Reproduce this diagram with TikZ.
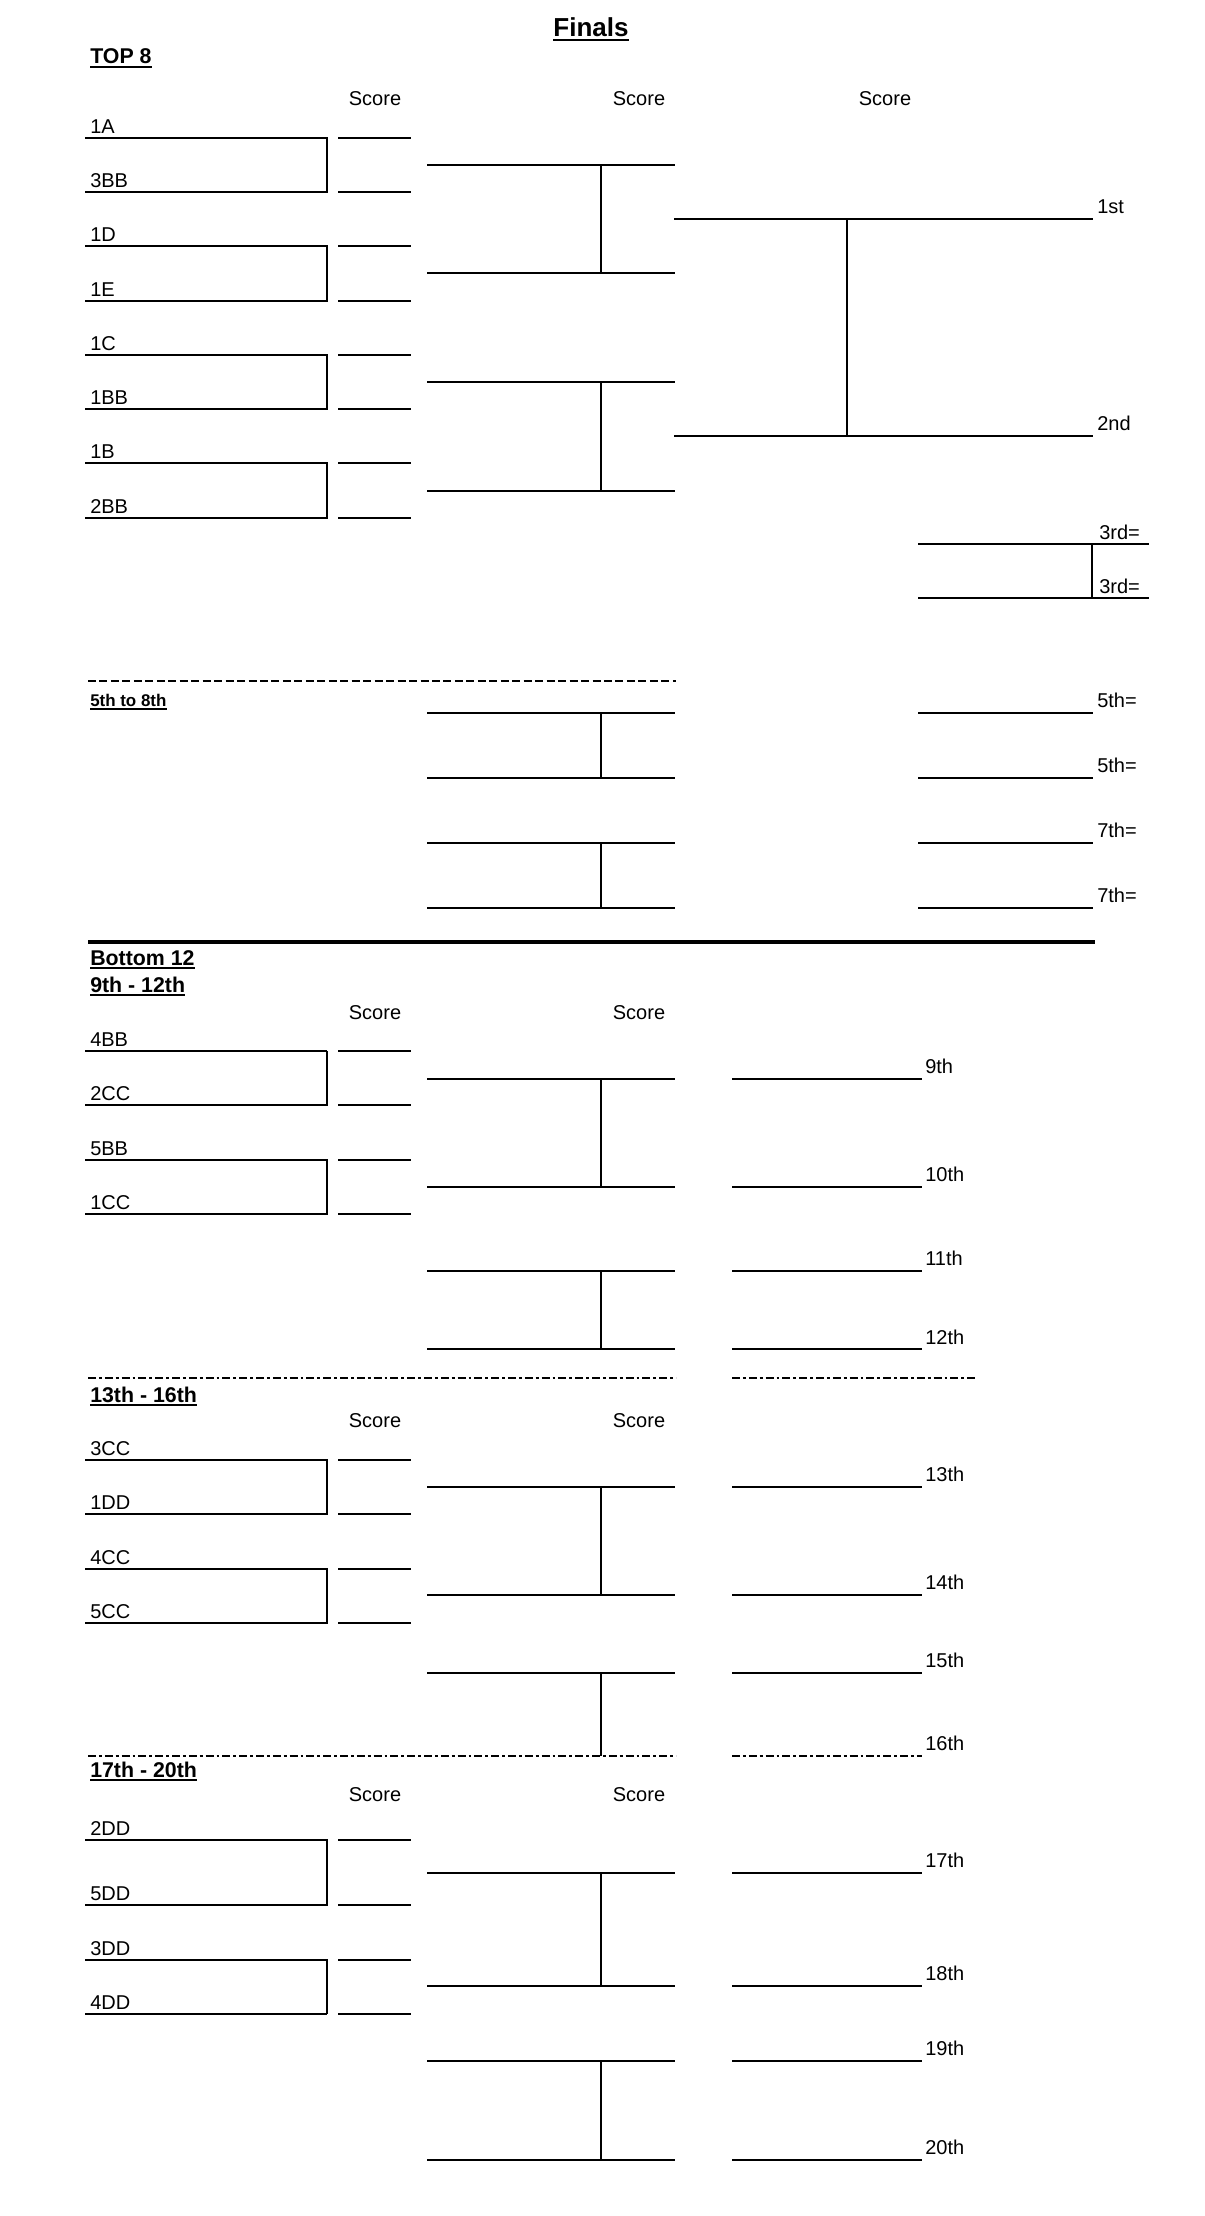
\documentclass[tikz,border=0pt]{standalone}
\usepackage{fontspec}
\setmainfont{Liberation Sans}
\usetikzlibrary{positioning}

\begin{document}
\begin{tikzpicture}[x=0.75pt,y=-0.75pt,
    line/.style={line width=1.4pt},
    bold/.style={line width=2pt},
    heavy/.style={line width=2.6pt},
    dashline/.style={line width=2pt,dash pattern=on 6pt off 2.6pt},
    dotline/.style={line width=1.9pt,dash pattern=on 6pt off 2.2pt on 2.2pt off 2.2pt},
    txt/.style={anchor=base west,inner sep=0pt,font=\fontsize{15}{18}\selectfont},
    score/.style={anchor=base,inner sep=0pt,font=\fontsize{15}{18}\selectfont},
    head/.style={anchor=base west,inner sep=0pt,font=\fontsize{16}{19}\selectfont\bfseries},
    ul/.style={line width=1.5pt}]

    \useasboundingbox (0,0) rectangle (1204,2216);

    \node[anchor=base,inner sep=0pt,font=\fontsize{19.5}{23}\selectfont\bfseries] (fin) at (591,37) {Finals};
    \node[head] (top) at (90,64) {TOP 8};
    \node[score] (s1) at (375,105) {Score};
    \node[score] (s2) at (639,105) {Score};
    \node[score] (s3) at (885,105) {Score};

    \node[txt] (a) at (90,133.5) {1A};
    \node[txt] (b) at (90,187.5) {3BB};
    \node[txt] (c) at (90,241.5) {1D};
    \node[txt] (d) at (90,296.5) {1E};
    \node[txt] (e) at (90,350.5) {1C};
    \node[txt] (f) at (90,404.5) {1BB};
    \node[txt] (g) at (90,458.5) {1B};
    \node[txt] (h) at (90,513.5) {2BB};

    \draw[line] (85,138) -- (327,138) -- (327,192) -- (85,192);
    \draw[line] (85,246) -- (327,246) -- (327,301) -- (85,301);
    \draw[line] (85,355) -- (327,355) -- (327,409) -- (85,409);
    \draw[line] (85,463) -- (327,463) -- (327,518) -- (85,518);
    \draw[line] (338,138) -- (411,138);
    \draw[line] (338,192) -- (411,192);
    \draw[line] (338,246) -- (411,246);
    \draw[line] (338,301) -- (411,301);
    \draw[line] (338,355) -- (411,355);
    \draw[line] (338,409) -- (411,409);
    \draw[line] (338,463) -- (411,463);
    \draw[line] (338,518) -- (411,518);

    \draw[line] (427,165) -- (675,165);
    \draw[bold] (427,273) -- (675,273);
    \draw[line] (601,165) -- (601,273);
    \draw[line] (427,382) -- (675,382);
    \draw[line] (427,491) -- (675,491);
    \draw[line] (601,382) -- (601,491);

    \draw[line] (674,219) -- (1093,219);
    \draw[line] (674,436) -- (1093,436);
    \draw[line] (847,219) -- (847,436);
    \node[txt] (p1) at (1097,213) {1st};
    \node[txt] (p2) at (1097,430) {2nd};

    \draw[line] (918,544) -- (1149,544);
    \draw[line] (918,598) -- (1149,598);
    \draw[line] (1092,544) -- (1092,598);
    \node[txt] (p3) at (1099,539) {3rd=};
    \node[txt] (p4) at (1099,593) {3rd=};

    \draw[dashline] (88,681) -- (676,681);
    \node[head,font=\fontsize{12.7}{15}\selectfont\bfseries] (five) at (90,706.7) {5th to 8th};

    \draw[line] (427,713) -- (675,713);
    \draw[line] (427,778) -- (675,778);
    \draw[line] (601,713) -- (601,778);
    \draw[line] (427,843) -- (675,843);
    \draw[bold] (427,908) -- (675,908);
    \draw[line] (601,843) -- (601,908);
    \draw[line] (918,713) -- (1093,713);
    \draw[line] (918,778) -- (1093,778);
    \draw[line] (918,843) -- (1093,843);
    \draw[bold] (918,908) -- (1093,908);
    \node[txt] (p5) at (1097,707) {5th=};
    \node[txt] (p6) at (1097,772) {5th=};
    \node[txt] (p7) at (1097,837) {7th=};
    \node[txt] (p8) at (1097,902) {7th=};

    \draw[heavy] (88,942) -- (1095,942);
    \node[head] (bot) at (90,965) {Bottom 12};
    \node[head] (nine) at (90,992) {9th - 12th};
    \node[score] (s4) at (375,1019) {Score};
    \node[score] (s5) at (639,1019) {Score};

    \node[txt] (i) at (90,1046.5) {4BB};
    \node[txt] (j) at (90,1100.5) {2CC};
    \node[txt] (k) at (90,1155.5) {5BB};
    \node[txt] (l) at (90,1209.5) {1CC};

    \draw[bold] (85,1051) -- (327,1051);
    \draw[line] (327,1051) -- (327,1105) -- (85,1105);
    \draw[line] (85,1160) -- (327,1160) -- (327,1214) -- (85,1214);
    \draw[bold] (338,1051) -- (411,1051);
    \draw[line] (338,1105) -- (411,1105);
    \draw[line] (338,1160) -- (411,1160);
    \draw[line] (338,1214) -- (411,1214);

    \draw[line] (427,1079) -- (675,1079);
    \draw[line] (427,1187) -- (675,1187);
    \draw[line] (601,1079) -- (601,1187);
    \draw[line] (427,1271) -- (675,1271);
    \draw[bold] (427,1349) -- (675,1349);
    \draw[line] (601,1271) -- (601,1349);
    \draw[line] (732,1079) -- (922,1079);
    \draw[line] (732,1187) -- (922,1187);
    \draw[line] (732,1271) -- (922,1271);
    \draw[bold] (732,1349) -- (922,1349);
    \node[txt] (q1) at (925,1073.5) {9th};
    \node[txt] (q2) at (925,1181.5) {10th};
    \node[txt] (q3) at (925,1265.5) {11th};
    \node[txt] (q4) at (925,1344) {12th};

    \draw[dotline] (88,1378) -- (676,1378);
    \draw[dotline] (732,1378) -- (978,1378);

    \node[head] (thir) at (90,1402) {13th - 16th};
    \node[score] (s6) at (375,1427) {Score};
    \node[score] (s7) at (639,1427) {Score};

    \node[txt] (m) at (90,1455.5) {3CC};
    \node[txt] (n) at (90,1509.5) {1DD};
    \node[txt] (o) at (90,1564.5) {4CC};
    \node[txt] (r) at (90,1618.5) {5CC};

    \draw[line] (85,1460) -- (327,1460) -- (327,1514) -- (85,1514);
    \draw[line] (85,1569) -- (327,1569) -- (327,1623) -- (85,1623);
    \draw[line] (338,1460) -- (411,1460);
    \draw[line] (338,1514) -- (411,1514);
    \draw[line] (338,1569) -- (411,1569);
    \draw[line] (338,1623) -- (411,1623);

    \draw[line] (427,1487) -- (675,1487);
    \draw[line] (427,1595) -- (675,1595);
    \draw[line] (601,1487) -- (601,1595);
    \draw[line] (427,1673) -- (675,1673);
    \draw[line] (601,1673) -- (601,1756);
    \draw[line] (732,1487) -- (922,1487);
    \draw[line] (732,1595) -- (922,1595);
    \draw[line] (732,1673) -- (922,1673);
    \node[txt] (q5) at (925,1481) {13th};
    \node[txt] (q6) at (925,1589) {14th};
    \node[txt] (q7) at (925,1667) {15th};
    \node[txt] (q8) at (925,1750) {16th};

    \draw[dotline] (88,1756) -- (676,1756);
    \draw[dotline] (732,1756) -- (922,1756);

    \node[head] (sev) at (90,1777) {17th - 20th};
    \node[score] (s8) at (375,1801) {Score};
    \node[score] (s9) at (639,1801) {Score};

    \node[txt] (t) at (90,1835.5) {2DD};
    \node[txt] (u) at (90,1900.5) {5DD};
    \node[txt] (v) at (90,1955.5) {3DD};
    \node[txt] (w) at (90,2009.5) {4DD};

    \draw[line] (85,1840) -- (327,1840) -- (327,1905) -- (85,1905);
    \draw[line] (85,1960) -- (327,1960) -- (327,2014);
    \draw[bold] (85,2014) -- (327,2014);
    \draw[line] (338,1840) -- (411,1840);
    \draw[line] (338,1905) -- (411,1905);
    \draw[line] (338,1960) -- (411,1960);
    \draw[bold] (338,2014) -- (411,2014);

    \draw[line] (427,1873) -- (675,1873);
    \draw[line] (427,1986) -- (675,1986);
    \draw[line] (601,1873) -- (601,1986);
    \draw[line] (427,2061) -- (675,2061);
    \draw[line] (427,2160) -- (675,2160);
    \draw[line] (601,2061) -- (601,2160);
    \draw[line] (732,1873) -- (922,1873);
    \draw[line] (732,1986) -- (922,1986);
    \draw[line] (732,2061) -- (922,2061);
    \draw[line] (732,2160) -- (922,2160);
    \node[txt] (q9) at (925,1867) {17th};
    \node[txt] (q10) at (925,1980) {18th};
    \node[txt] (q11) at (925,2055) {19th};
    \node[txt] (q12) at (925,2154) {20th};

    \draw[ul] ([yshift=-2.6pt]fin.base west) -- ([yshift=-2.6pt]fin.base east);
    \draw[ul] ([yshift=-2.4pt]top.base west) -- ([yshift=-2.4pt]top.base east);
    \draw[line] ([yshift=-2pt]five.base west) -- ([yshift=-2pt]five.base east);
    \draw[ul] ([yshift=-2.4pt]bot.base west) -- ([yshift=-2.4pt]bot.base east);
    \draw[ul] ([yshift=-2.4pt]nine.base west) -- ([yshift=-2.4pt]nine.base east);
    \draw[ul] ([yshift=-2.4pt]thir.base west) -- ([yshift=-2.4pt]thir.base east);
    \draw[ul] ([yshift=-2.4pt]sev.base west) -- ([yshift=-2.4pt]sev.base east);
\end{tikzpicture}
\end{document}
